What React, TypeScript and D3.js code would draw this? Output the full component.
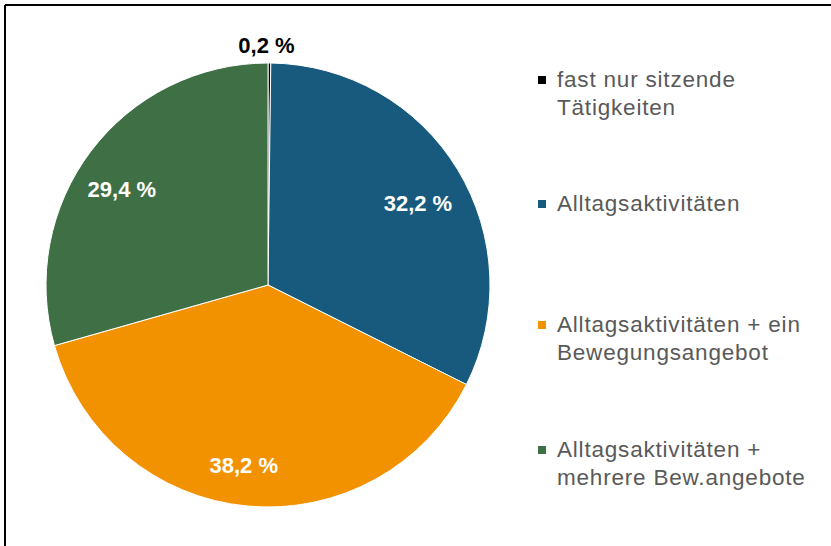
import React from "react";
import * as d3 from "d3";

const categories = [
  "fast nur sitzende Tätigkeiten",
  "Alltagsaktivitäten",
  "Alltagsaktivitäten + ein Bewegungsangebot",
  "Alltagsaktivitäten + mehrere Bew.angebote",
];
const values = [0.2, 32.2, 38.2, 29.4];
const valueLabels = ["0,2 %", "32,2 %", "38,2 %", "29,4 %"];
const legendLines = [
  ["fast nur sitzende", "Tätigkeiten"],
  ["Alltagsaktivitäten"],
  ["Alltagsaktivitäten + ein", "Bewegungsangebot"],
  ["Alltagsaktivitäten +", "mehrere Bew.angebote"],
];
const colors = ["#000000", "#185a7d", "#f39200", "#3e6f45"];
// small horizontal nudges emulating the original label placement
const labelNudgeX = [-3, 2, -8, -8];

export default function App() {
  const W = 831;
  const H = 546;
  const cx = 268;
  const cy = 285;
  const r = 222;

  const pie = d3
    .pie<number>()
    .sort(null)
    .value((d) => d);
  const arcs = pie(values);
  const arc = d3.arc<d3.PieArcDatum<number>>().innerRadius(0).outerRadius(r);
  const labelArc = d3
    .arc<d3.PieArcDatum<number>>()
    .innerRadius(r * 0.78)
    .outerRadius(r * 0.78);
  const outerLabelArc = d3
    .arc<d3.PieArcDatum<number>>()
    .innerRadius(r + 10)
    .outerRadius(r + 10);

  const legendBaselines = [87, 211, 332, 457];
  const lineH = 27.5;

  return (
    <svg
      width={W}
      height={H}
      style={{ position: "absolute", left: 0, top: 0, background: "#fff" }}
      fontFamily="'Liberation Sans', Arial, sans-serif"
    >
      <rect x={0} y={0} width={W} height={H} fill="#fff" />
      <line x1={5} y1={5} x2={W} y2={5} stroke="#000" strokeWidth={2} />
      <line x1={5} y1={5} x2={5} y2={H} stroke="#000" strokeWidth={2} />
      <g transform={`translate(${cx},${cy})`}>
        {arcs.map((a, i) => (
          <path
            key={categories[i]}
            d={arc(a) || ""}
            fill={colors[i]}
            stroke="#fff"
            strokeWidth={1}
          />
        ))}
        {arcs.map((a, i) => {
          const small = values[i] < 1;
          const [lx, ly] = small ? outerLabelArc.centroid(a) : labelArc.centroid(a);
          return (
            <text
              key={"l" + i}
              x={lx + labelNudgeX[i]}
              y={small ? ly : ly + 16}
              textAnchor="middle"
              fontWeight="bold"
              fontSize={22}
              fill={small ? "#000" : "#fff"}
            >
              {valueLabels[i]}
            </text>
          );
        })}
      </g>
      <g>
        {legendLines.map((lines, i) => (
          <g key={"lg" + i}>
            <rect
              x={538}
              y={legendBaselines[i] - 11}
              width={8}
              height={8}
              fill={colors[i]}
            />
            <text fontSize={22.5} fill="#595959" letterSpacing={0.8}>
              {lines.map((t, j) => (
                <tspan key={j} x={557} y={legendBaselines[i] + j * lineH}>
                  {t}
                </tspan>
              ))}
            </text>
          </g>
        ))}
      </g>
    </svg>
  );
}
